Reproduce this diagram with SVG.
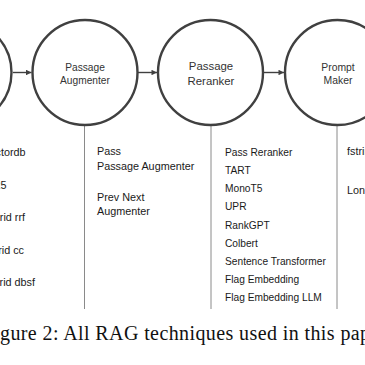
<svg xmlns="http://www.w3.org/2000/svg" width="365" height="365" viewBox="0 0 365 365">
<style>
.node{fill:#fff;stroke:#404040;stroke-width:2.4}
.lbl{font-family:"Liberation Sans",Arial,sans-serif;fill:#333;text-anchor:middle}
.item{font-family:"Liberation Sans",Arial,sans-serif;fill:#1a1a1a;font-size:10.8px}
.conn{stroke:#404040;stroke-width:1.4;fill:none}
.div{stroke:#8a8a8a;stroke-width:1;fill:none}
.cap{font-family:"Liberation Serif","Times New Roman",serif;fill:#111;font-size:20px;letter-spacing:0.4px}
</style>
<defs>
<marker id="ah" viewBox="0 0 10 10" refX="10" refY="5" markerWidth="7" markerHeight="5.5" markerUnits="userSpaceOnUse" orient="auto">
<path d="M0,0 L10,5 L0,10 Z" fill="#404040"/>
</marker>
</defs>
<g id="connectors">
<line class="conn" x1="13" y1="72.5" x2="31.5" y2="72.5" marker-end="url(#ah)"/>
<line class="conn" x1="138" y1="72.5" x2="157" y2="72.5" marker-end="url(#ah)"/>
<line class="conn" x1="263" y1="72.5" x2="284" y2="72.5" marker-end="url(#ah)"/>
<line class="div" x1="84.5" y1="125" x2="84.5" y2="309"/>
<line class="div" x1="211" y1="125" x2="211" y2="309"/>
<line class="div" x1="337" y1="125" x2="337" y2="309"/>
</g>
<g id="node-retrieval">
<circle class="node" cx="-41" cy="72.5" r="52.5"/>
</g>
<g id="node-passage-augmenter">
<circle class="node" cx="85" cy="72.5" r="52.5"/>
<text class="lbl" font-size="10.2" x="85" y="71">Passage</text>
<text class="lbl" font-size="10.2" x="85" y="83.5">Augmenter</text>
</g>
<g id="node-passage-reranker">
<circle class="node" cx="210.5" cy="72.5" r="52.5"/>
<text class="lbl" font-size="11.4" x="211" y="70">Passage</text>
<text class="lbl" font-size="11.4" x="211" y="85">Reranker</text>
</g>
<g id="node-prompt-maker">
<circle class="node" cx="337.5" cy="72.5" r="52.5"/>
<text class="lbl" font-size="10.4" x="338" y="71">Prompt</text>
<text class="lbl" font-size="10.4" x="338" y="83.5">Maker</text>
</g>
<g id="list-retrieval" text-anchor="end">
<text class="item" x="25.5" y="156">vectordb</text>
<text class="item" x="6.5" y="188.5">bm25</text>
<text class="item" x="25" y="221">hybrid rrf</text>
<text class="item" x="24" y="253.5">hybrid cc</text>
<text class="item" x="35" y="286">hybrid dbsf</text>
</g>
<g id="list-passage-augmenter">
<text class="item" x="97" y="155">Pass</text>
<text class="item" x="97" y="170">Passage Augmenter</text>
<text class="item" x="97" y="200.5">Prev Next</text>
<text class="item" x="97" y="215">Augmenter</text>
</g>
<g id="list-passage-reranker">
<text class="item" style="font-size:10.2px" x="225" y="156">Pass Reranker</text>
<text class="item" style="font-size:10.2px" x="225" y="174">TART</text>
<text class="item" style="font-size:10.2px" x="225" y="192">MonoT5</text>
<text class="item" style="font-size:10.2px" x="225" y="210">UPR</text>
<text class="item" style="font-size:10.2px" x="225" y="228.5">RankGPT</text>
<text class="item" style="font-size:10.2px" x="225" y="247">Colbert</text>
<text class="item" style="font-size:10.2px" x="225" y="265">Sentence Transformer</text>
<text class="item" style="font-size:10.2px" x="225" y="283">Flag Embedding</text>
<text class="item" style="font-size:10.2px" x="225" y="301">Flag Embedding LLM</text>
</g>
<g id="list-prompt-maker">
<text class="item" x="347" y="155">fstring</text>
<text class="item" x="347" y="194">Long Context Reorder</text>
</g>
<text class="cap" x="-17.5" y="340">Figure 2:  All RAG techniques used in this paper</text>
</svg>
